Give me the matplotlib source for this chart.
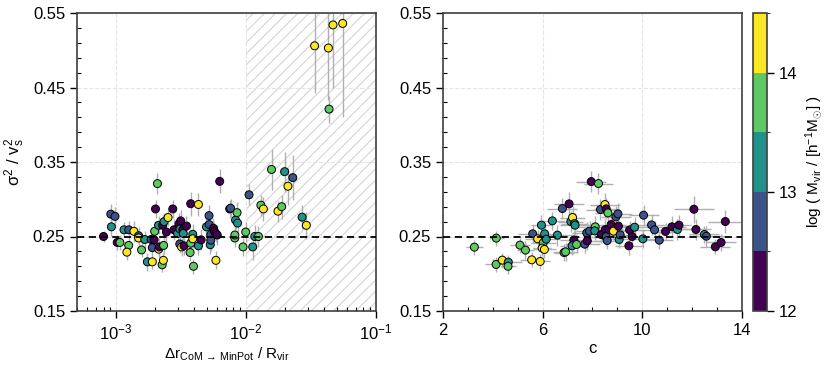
import matplotlib
matplotlib.use('Agg')
import matplotlib.pyplot as plt
import matplotlib.colors as mcolors
import matplotlib.ticker as mticker
import numpy as np

plt.rcParams['font.family'] = ['Liberation Sans', 'DejaVu Sans']
plt.rcParams['font.size'] = 9
plt.rcParams['mathtext.fontset'] = 'custom'
plt.rcParams['mathtext.rm'] = 'Liberation Sans'
plt.rcParams['mathtext.it'] = 'Liberation Sans'
plt.rcParams['mathtext.bf'] = 'Liberation Sans:bold'
plt.rcParams['hatch.color'] = '#d4d4d4'
plt.rcParams['hatch.linewidth'] = 0.8

# ---- left panel: offset between centre of mass and potential minimum ----
dr = [8.0e-4, 9.1e-4, 9.8e-4, 9.2e-4, 1.02e-3, 1.07e-3, 1.15e-3, 1.25e-3, 1.25e-3, 1.21e-3,
      1.37e-3, 1.49e-3, 1.49e-3, 1.57e-3, 1.66e-3, 1.74e-3, 1.86e-3, 1.90e-3, 1.90e-3, 1.96e-3,
      1.98e-3, 2.01e-3, 2.08e-3, 2.12e-3, 2.13e-3, 2.15e-3, 2.26e-3, 2.32e-3, 2.31e-3, 2.28e-3,
      2.34e-3, 2.44e-3, 2.51e-3, 2.73e-3, 2.79e-3, 2.97e-3, 3.05e-3, 3.10e-3, 3.14e-3, 3.09e-3,
      3.19e-3, 3.33e-3, 3.26e-3, 3.29e-3, 3.48e-3, 3.75e-3, 3.71e-3, 3.75e-3, 3.89e-3, 3.89e-3,
      3.94e-3, 4.30e-3, 4.30e-3, 4.51e-3, 4.96e-3, 5.19e-3, 5.20e-3, 5.30e-3, 5.35e-3, 5.35e-3,
      5.61e-3, 5.70e-3, 5.86e-3, 5.86e-3, 6.00e-3, 6.27e-3, 7.48e-3, 7.60e-3, 8.19e-3, 8.20e-3,
      8.30e-3, 8.53e-3, 8.60e-3, 9.48e-3, 9.94e-3, 1.054e-2, 1.125e-2, 1.167e-2, 1.245e-2, 1.30e-2,
      1.36e-2, 1.57e-2, 1.76e-2, 1.88e-2, 1.98e-2, 2.10e-2, 2.29e-2, 2.70e-2, 2.91e-2, 3.37e-2,
      4.30e-2, 4.35e-2, 4.67e-2, 5.54e-2]
ratio_l = [0.250, 0.280, 0.277, 0.263, 0.242, 0.242, 0.259, 0.259, 0.238, 0.229,
           0.257, 0.251, 0.248, 0.232, 0.246, 0.216, 0.246, 0.235, 0.216, 0.2455,
           0.257, 0.287, 0.321, 0.265, 0.233, 0.236, 0.212, 0.238, 0.218, 0.265,
           0.270, 0.256, 0.2755, 0.287, 0.259, 0.254, 0.267, 0.260, 0.271, 0.240,
           0.236, 0.2375, 0.259, 0.254, 0.264, 0.294, 0.2285, 0.241, 0.253, 0.247,
           0.210, 0.293, 0.2375, 0.2455, 0.263, 0.278, 0.266, 0.239, 0.2527, 0.245,
           0.261, 0.257, 0.254, 0.218, 0.252, 0.324, 0.287, 0.288, 0.248, 0.252,
           0.272, 0.282, 0.268, 0.236, 0.256, 0.306, 0.236, 0.250, 0.250, 0.292,
           0.287, 0.340, 0.284, 0.290, 0.337, 0.3175, 0.329, 0.276, 0.265, 0.506,
           0.503, 0.421, 0.534, 0.536]
err_l = [0.008, 0.014, 0.012, 0.012, 0.010, 0.010, 0.010, 0.012, 0.010, 0.010,
         0.014, 0.012, 0.010, 0.010, 0.012, 0.012, 0.012, 0.010, 0.010, 0.012,
         0.014, 0.012, 0.014, 0.012, 0.010, 0.012, 0.010, 0.012, 0.010, 0.014,
         0.012, 0.014, 0.012, 0.012, 0.014, 0.014, 0.014, 0.012, 0.014, 0.012,
         0.012, 0.012, 0.012, 0.012, 0.014, 0.016, 0.012, 0.012, 0.014, 0.012,
         0.010, 0.016, 0.012, 0.014, 0.014, 0.014, 0.014, 0.012, 0.012, 0.014,
         0.014, 0.012, 0.012, 0.012, 0.014, 0.016, 0.012, 0.012, 0.012, 0.012,
         0.012, 0.014, 0.012, 0.012, 0.014, 0.014, 0.018, 0.016, 0.014, 0.014,
         0.016, 0.028, 0.014, 0.016, 0.027, 0.025, 0.030, 0.016, 0.018, 0.063,
         0.070, 0.018, 0.084, 0.126]
mass_l = [12.2, 12.7, 12.7, 13.2, 12.2, 13.7, 13.2, 12.7, 13.7, 14.2,
          14.2, 12.7, 14.2, 13.7, 13.2, 13.2, 12.7, 12.7, 14.2, 12.2,
          13.7, 12.2, 13.7, 13.2, 14.2, 12.2, 13.7, 13.7, 14.2, 12.2,
          13.2, 12.2, 14.2, 12.2, 12.2, 13.2, 12.2, 13.2, 12.2, 12.7,
          14.2, 12.2, 12.2, 13.2, 12.2, 12.2, 13.7, 13.7, 13.2, 14.2,
          13.7, 14.2, 13.2, 12.2, 13.2, 12.7, 12.7, 13.2, 12.7, 12.7,
          12.2, 12.2, 12.2, 14.2, 12.2, 12.2, 12.7, 12.7, 13.7, 13.7,
          13.2, 13.7, 13.2, 13.7, 13.7, 12.7, 13.2, 13.2, 13.7, 13.7,
          14.2, 13.7, 14.2, 13.7, 13.2, 14.2, 12.7, 13.2, 14.2, 14.2,
          14.2, 13.7, 14.2, 14.2]

# ---- right panel: concentration ----
conc = [3.26, 4.14, 4.13, 4.38, 4.62, 4.61, 5.09, 5.31, 5.56, 5.90,
        5.60, 5.80, 5.95, 6.08, 6.02, 5.98, 6.07, 6.14, 6.39, 6.59,
        6.79, 6.86, 6.92, 7.06, 7.13, 7.20, 7.28, 7.30, 7.25, 7.18,
        7.36, 7.69, 7.79, 7.77, 7.88, 7.95, 8.11, 8.09, 8.24, 8.32,
        8.35, 8.50, 8.52, 8.55, 8.54, 8.59, 8.62, 8.66, 8.75, 8.84,
        8.94, 9.02, 9.04, 9.07, 9.11, 9.46, 9.49, 9.59, 9.69, 10.02,
        10.05, 10.37, 10.49, 10.68, 10.93, 11.19, 11.41, 11.47, 12.07, 12.15,
        12.49, 12.57, 12.93, 13.16, 13.33]
conc_err = [0.35, 0.30, 0.45, 0.40, 0.55, 0.30, 0.40, 0.35, 0.45, 0.40,
            0.60, 0.50, 0.40, 0.60, 0.50, 0.35, 0.45, 0.55, 0.50, 0.80,
            0.60, 0.40, 0.50, 0.60, 0.50, 0.50, 0.55, 0.60, 0.55, 0.50,
            0.45, 0.60, 0.55, 0.60, 0.55, 0.60, 0.70, 0.50, 0.60, 0.60,
            0.50, 0.60, 0.55, 0.50, 0.60, 0.50, 0.50, 0.55, 0.60, 0.50,
            0.60, 0.55, 0.60, 0.60, 0.50, 0.55, 0.60, 0.60, 0.55, 0.60,
            0.60, 0.55, 0.60, 0.55, 0.60, 0.55, 0.60, 0.50, 0.80, 0.60,
            0.60, 0.70, 0.60, 0.60, 0.70]
ratio_r = [0.2357, 0.2478, 0.2125, 0.2183, 0.2156, 0.210, 0.2384, 0.2317, 0.2187, 0.2165,
           0.2536, 0.2469, 0.2652, 0.2536, 0.2415, 0.2344, 0.2326, 0.2464, 0.271, 0.2518,
           0.2875, 0.2285, 0.2294, 0.2938, 0.2701, 0.2755, 0.2674, 0.2652, 0.2451, 0.2375,
           0.2393, 0.2397, 0.2442, 0.2549, 0.2571, 0.3237, 0.263, 0.2576, 0.3211, 0.2862,
           0.2527, 0.2929, 0.2594, 0.2871, 0.2496, 0.2446, 0.2817, 0.2594, 0.2661, 0.2572,
           0.2764, 0.2804, 0.2639, 0.246, 0.2522, 0.2375, 0.2589, 0.250, 0.2625, 0.2469,
           0.2786, 0.2656, 0.2589, 0.2451, 0.2567, 0.263, 0.2594, 0.2652, 0.2866, 0.2594,
           0.2527, 0.2504, 0.2361, 0.242, 0.2701]
err_r = [0.010, 0.010, 0.010, 0.010, 0.010, 0.010, 0.010, 0.012, 0.010, 0.010,
         0.012, 0.012, 0.014, 0.012, 0.012, 0.010, 0.012, 0.012, 0.012, 0.014,
         0.014, 0.012, 0.012, 0.016, 0.014, 0.016, 0.014, 0.014, 0.012, 0.012,
         0.012, 0.012, 0.012, 0.014, 0.014, 0.014, 0.014, 0.012, 0.014, 0.014,
         0.012, 0.016, 0.014, 0.014, 0.012, 0.012, 0.014, 0.012, 0.014, 0.012,
         0.014, 0.014, 0.014, 0.012, 0.012, 0.012, 0.012, 0.012, 0.014, 0.012,
         0.014, 0.014, 0.012, 0.012, 0.012, 0.014, 0.014, 0.014, 0.018, 0.014,
         0.012, 0.014, 0.010, 0.012, 0.016]
mass_r = [13.7, 13.7, 13.7, 14.2, 13.2, 13.7, 13.7, 13.7, 14.2, 14.2,
          12.7, 14.2, 13.2, 13.2, 13.7, 14.2, 14.2, 13.2, 13.2, 13.2,
          12.7, 13.7, 13.7, 12.2, 13.2, 14.2, 13.2, 13.2, 12.2, 13.2,
          13.7, 12.7, 12.2, 12.7, 12.7, 12.2, 13.7, 13.2, 13.7, 12.7,
          12.2, 14.2, 12.2, 12.2, 12.7, 12.7, 13.7, 12.2, 12.2, 14.2,
          12.7, 12.7, 12.2, 13.2, 12.7, 12.2, 12.2, 12.2, 13.2, 13.2,
          12.7, 12.7, 12.7, 12.7, 12.2, 12.2, 13.2, 12.2, 12.2, 12.2,
          13.2, 12.7, 12.2, 12.2, 12.2]

y_ticks = [0.15, 0.25, 0.35, 0.45, 0.55]
y_minor = [0.17, 0.19, 0.21, 0.23, 0.27, 0.29, 0.31, 0.33, 0.37, 0.39,
           0.41, 0.43, 0.47, 0.49, 0.51, 0.53]
c_ticks = [2, 6, 10, 14]

bounds = [12.0, 12.5, 13.0, 13.5, 14.0, 14.5]
cmap = plt.get_cmap('viridis', 5)
norm = mcolors.BoundaryNorm(bounds, cmap.N)

W, H = 831, 373
fig = plt.figure(figsize=(W / 100, H / 100), dpi=100)
ax1 = fig.add_axes([77 / W, 1 - 311 / H, 299 / W, 298 / H])
ax2 = fig.add_axes([443 / W, 1 - 311 / H, 299 / W, 298 / H])
cax = fig.add_axes([753 / W, 1 - 311 / H, 14 / W, 298 / H])

ecol = '#b0b0b0'

# left panel
ax1.axvspan(1e-2, 1e-1, facecolor='none', hatch='///', edgecolor='#d4d4d4', lw=0, zorder=0)
ax1.errorbar(dr, ratio_l, yerr=err_l, fmt='none', ecolor=ecol, elinewidth=1.0, zorder=2)
ax1.scatter(dr, ratio_l, c=mass_l, cmap=cmap, norm=norm, s=33, edgecolors='black',
            linewidths=0.7, zorder=3)
ax1.axhline(0.25, color='black', ls=(0, (4, 2.5)), lw=1.3, zorder=4)
ax1.set_xscale('log')
ax1.set_xlim(5e-4, 1e-1)
ax1.set_ylim(0.15, 0.55)
ax1.set_xlabel(r'$\Delta$r$_{\mathrm{CoM\,\rightarrow\,MinPot}}$ / R$_{\mathrm{vir}}$',
               fontsize=11, labelpad=2)
ax1.set_ylabel(r'$\sigma^2$ / v$_\mathrm{s}^2$', fontsize=12)
ax1.xaxis.set_major_locator(mticker.LogLocator(base=10, numticks=10))
ax1.xaxis.set_minor_locator(mticker.LogLocator(base=10, subs=np.arange(2, 10), numticks=10))

# right panel
ax2.errorbar(conc, ratio_r, xerr=conc_err, yerr=err_r, fmt='none', ecolor=ecol,
             elinewidth=1.0, zorder=2)
ax2.scatter(conc, ratio_r, c=mass_r, cmap=cmap, norm=norm, s=33, edgecolors='black',
            linewidths=0.7, zorder=3)
ax2.axhline(0.25, color='black', ls=(0, (4, 2.5)), lw=1.3, zorder=4)
ax2.set_xlim(2, 14)
ax2.set_ylim(0.15, 0.55)
ax2.set_xlabel('c', fontsize=12, labelpad=2)
ax2.xaxis.set_major_locator(mticker.FixedLocator(c_ticks))
ax2.xaxis.set_minor_locator(mticker.MultipleLocator(1))

for ax in (ax1, ax2):
    ax.yaxis.set_major_locator(mticker.FixedLocator(y_ticks))
    ax.yaxis.set_minor_locator(mticker.FixedLocator(y_minor))
    ax.yaxis.set_major_formatter(mticker.FormatStrFormatter('%.2f'))
    ax.grid(True, which='major', ls='--', color='#e4e4e4', lw=0.8, zorder=0)
    ax.tick_params(which='major', direction='out', length=5, width=1, labelsize=12)
    ax.tick_params(which='minor', direction='in', length=3, width=0.8)
    for sp in ax.spines.values():
        sp.set_color('#404040')
        sp.set_linewidth(1.2)

sm = plt.cm.ScalarMappable(cmap=cmap, norm=norm)
cb = fig.colorbar(sm, cax=cax, ticks=[12, 13, 14])
cb.set_label(r'log ( M$_{\mathrm{vir}}$ / [h$^{-1}$M$_{\odot}$] )', fontsize=11)
cb.ax.tick_params(labelsize=12, length=5, width=1, direction='out')
cb.outline.set_edgecolor('#404040')
cb.outline.set_linewidth(1.2)

fig.savefig('out.png', dpi=100)
